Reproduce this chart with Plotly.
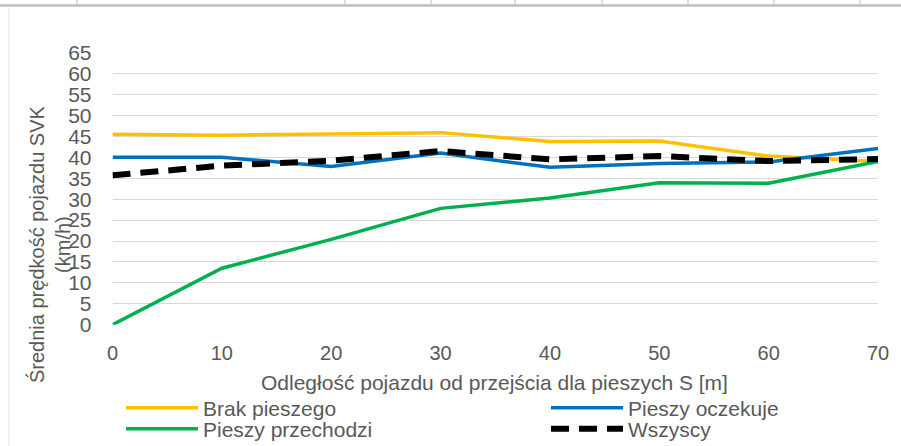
import plotly.graph_objects as go

# Data
distance = [0, 10, 20, 30, 40, 50, 60, 70]
brak_pieszego = [45.5, 45.3, 45.6, 45.9, 43.8, 43.9, 40.3, 39.0]
pieszy_oczekuje = [40.0, 40.0, 37.8, 41.0, 37.6, 38.5, 38.9, 42.1]
pieszy_przechodzi = [0.0, 13.5, 20.4, 27.8, 30.3, 33.9, 33.8, 39.0]
wszyscy = [35.7, 38.0, 39.2, 41.5, 39.5, 40.3, 39.1, 39.6]

series_names = ["Brak pieszego", "Pieszy oczekuje", "Pieszy przechodzi", "Wszyscy"]
y_ticks = list(range(0, 70, 5))
x_ticks = list(range(0, 80, 10))

W, H = 901, 446
X0, X1 = 112.5, 878.0   # plot area, pixels
Y_TOP, Y_BOT = 52.7, 324.7


def px_x(p):
    return p / W


def px_y(p):
    return 1 - p / H


gray_text = "#595959"
font_family = "Liberation Sans, Arial, sans-serif"

fig = go.Figure()
fig.add_trace(go.Scatter(x=distance, y=brak_pieszego, name=series_names[0], mode="lines",
                         line=dict(color="#FFC000", width=3.5), legend="legend"))
fig.add_trace(go.Scatter(x=distance, y=pieszy_oczekuje, name=series_names[1], mode="lines",
                         line=dict(color="#0070C0", width=3.5), legend="legend2"))
fig.add_trace(go.Scatter(x=distance, y=pieszy_przechodzi, name=series_names[2], mode="lines",
                         line=dict(color="#00B050", width=3.5), legend="legend3"))
fig.add_trace(go.Scatter(x=distance, y=wszyscy, name=series_names[3], mode="lines",
                         line=dict(color="#000000", width=6, dash="18px,10px"), legend="legend4"))

shapes = []
# table fragment at the top
shapes.append(dict(type="line", xref="paper", yref="paper", x0=0, x1=1,
                   y0=px_y(5.5), y1=px_y(5.5), line=dict(color="#BFBFBF", width=2.5)))
for sx in [77, 345, 431, 515, 602, 688, 774, 860]:
    shapes.append(dict(type="line", xref="paper", yref="paper", x0=px_x(sx), x1=px_x(sx),
                       y0=px_y(0), y1=px_y(5), line=dict(color="#BFBFBF", width=1)))
# left border of chart area
shapes.append(dict(type="line", xref="paper", yref="paper", x0=px_x(9), x1=px_x(9),
                   y0=px_y(8), y1=0, line=dict(color="#EBEBEB", width=1.5)))

legend_common = dict(orientation="v", xanchor="left", yanchor="middle", itemwidth=72,
                     font=dict(size=21, color=gray_text, family=font_family),
                     bgcolor="rgba(0,0,0,0)")

fig.update_layout(
    width=W, height=H,
    margin=dict(l=0, r=0, t=0, b=0, autoexpand=False),
    paper_bgcolor="white", plot_bgcolor="white",
    font=dict(family=font_family, color=gray_text, size=20),
    showlegend=True,
    legend=dict(x=px_x(121), y=px_y(408), **legend_common),
    legend2=dict(x=px_x(546), y=px_y(408), **legend_common),
    legend3=dict(x=px_x(121), y=px_y(429), **legend_common),
    legend4=dict(x=px_x(546), y=px_y(429), **legend_common),
    shapes=shapes,
    xaxis=dict(domain=[px_x(X0), px_x(X1)], range=[0, 70], tickvals=x_ticks,
               showgrid=False, zeroline=False, automargin=False,
               showline=False, ticks="", tickfont=dict(size=20, color=gray_text),
               ticklabelstandoff=14),
    yaxis=dict(domain=[px_y(Y_BOT), px_y(Y_TOP)], range=[0, 65], tickvals=y_ticks,
               showgrid=True, gridcolor="#D9D9D9", gridwidth=1, automargin=False,
               zeroline=False, showline=False, ticks="", tickfont=dict(size=21, color=gray_text),
               ticklabelstandoff=20),
    annotations=[
        dict(text="Średnia prędkość pojazdu SVK<br>(km/h)", textangle=-90,
             xref="paper", yref="paper", x=px_x(49), y=px_y(245),
             xanchor="center", yanchor="middle", showarrow=False,
             font=dict(size=20, color=gray_text)),
        dict(text="Odległość pojazdu od przejścia dla pieszych S [m]",
             xref="paper", yref="paper", x=px_x(494.5), y=px_y(382),
             xanchor="center", yanchor="middle", showarrow=False,
             font=dict(size=21, color=gray_text)),
    ],
)

fig.write_html("out.html", config={"displayModeBar": False},
               post_script="document.body.style.margin='0';")
